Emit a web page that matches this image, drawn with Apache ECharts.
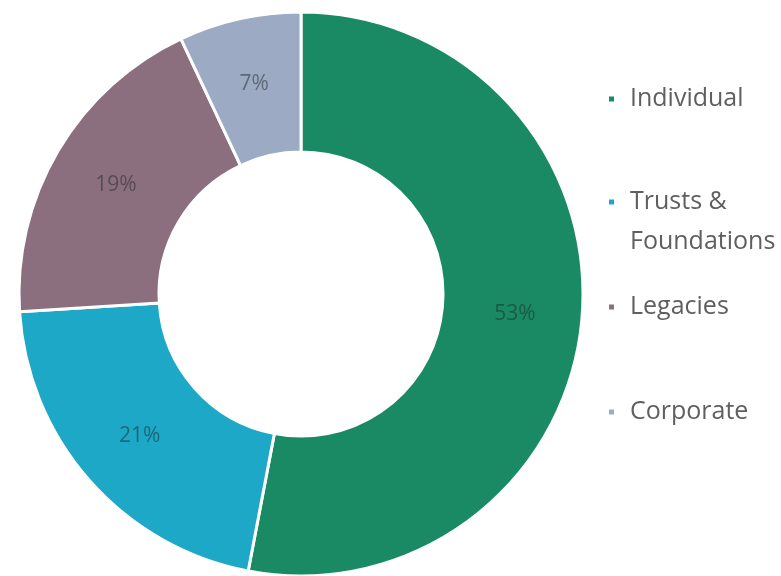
<!DOCTYPE html>
<html>
<head>
<meta charset="utf-8">
<script src="https://cdn.jsdelivr.net/npm/echarts@6/dist/echarts.min.js"></script>
<style>
  html, body { margin: 0; padding: 0; background: #fff; }
  #chart { width: 781px; height: 576px; }
</style>
</head>
<body>
<div id="chart"></div>
<script>
// Income sources, share of total (%)
const categories = ['Individual', 'Trusts & Foundations', 'Legacies', 'Corporate'];
const shares = [53, 21, 19, 7];
const colors = ['#1a8a64', '#1ca8c6', '#8c6f7f', '#9caac3'];

// Vertical offset of each legend entry
const legendTops = [74, 177, 282, 387];

const chart = echarts.init(document.getElementById('chart'));

// Square marker; the wrapped entry gets a tall icon box with the square at its top
const squareIcon = 'rect';
const tallSquareIcon = 'path://M0,0H7V7H0Z M0,46.99H0.01V47H0Z';

const legends = categories.map((name, i) => {
  const wrapped = name.indexOf(' & ') >= 0;
  return {
    orient: 'vertical',
    left: 602,
    top: legendTops[i],
    data: [name],
    icon: wrapped ? tallSquareIcon : squareIcon,
    itemWidth: 7,
    itemHeight: wrapped ? 47 : 7,
    selectedMode: false,
    formatter: n => n.replace(' & ', ' &\n'),
    textStyle: {
      fontFamily: 'Open Sans',
      fontSize: 25,
      color: '#5f5f5f',
      lineHeight: 40,
      padding: [0, 0, 0, 10]
    }
  };
});

chart.setOption({
  animation: false,
  color: colors,
  legend: legends,
  series: [{
    type: 'pie',
    center: [301, 294],
    radius: [142, 282],
    startAngle: 90,
    clockwise: true,
    avoidLabelOverlap: false,
    itemStyle: { borderColor: '#ffffff', borderWidth: 3 },
    label: {
      show: true,
      position: 'inside',
      formatter: p => p.value + '%',
      fontFamily: 'Open Sans',
      fontSize: 21,
      color: 'rgba(30,40,40,0.5)'
    },
    labelLine: { show: false },
    emphasis: { disabled: true },
    data: categories.map((name, i) => ({ name: name, value: shares[i] }))
  }]
});
</script>
</body>
</html>
